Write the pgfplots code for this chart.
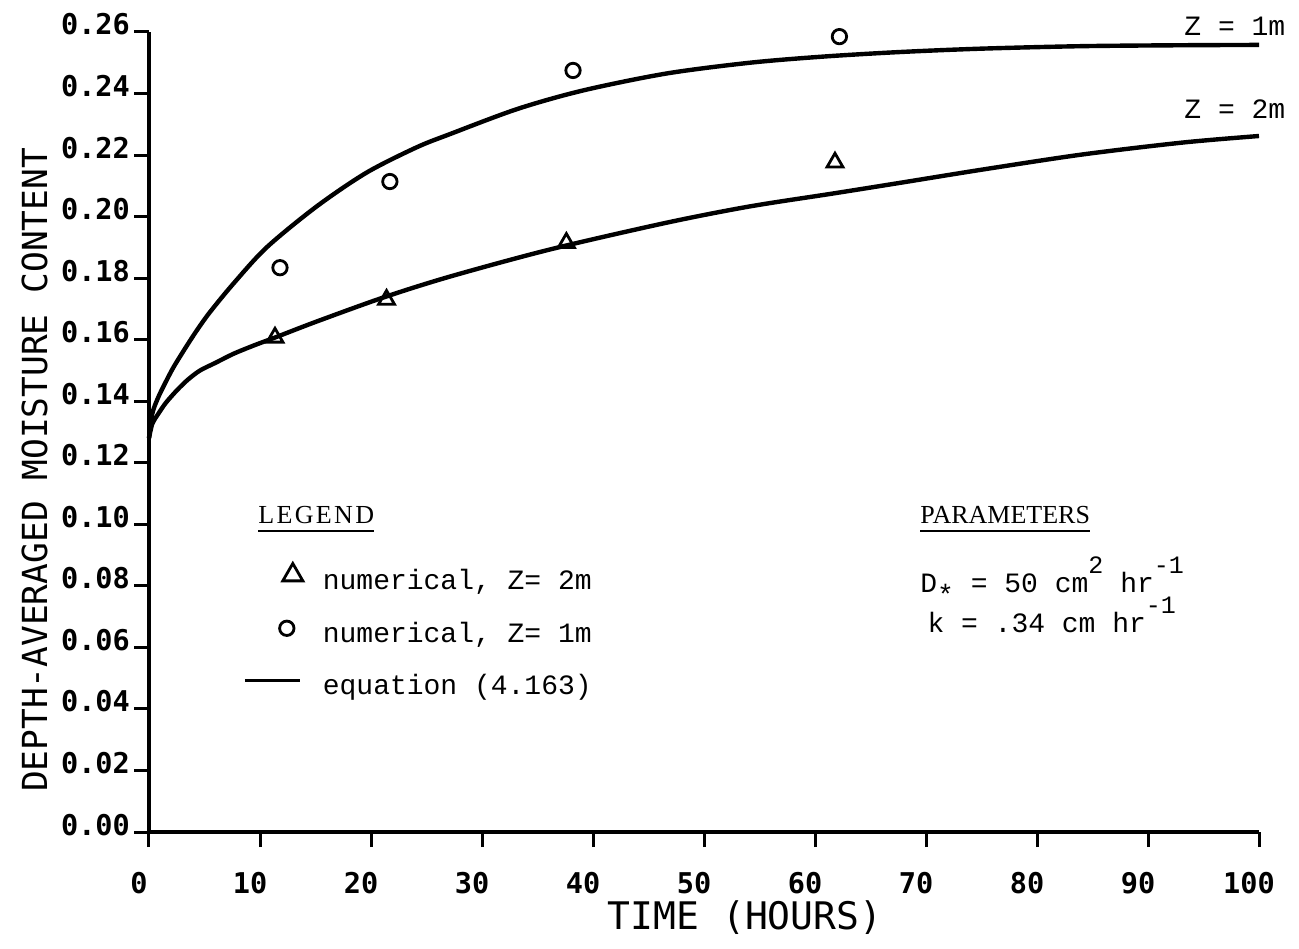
\documentclass[border=0pt]{standalone}
\usepackage{fontspec}
\usepackage{pgfplots}
\pgfplotsset{compat=1.18}
\setmainfont{Liberation Mono}
\newfontfamily\plotmono{DejaVu Sans Mono}
\newfontfamily\headfont{Liberation Serif}

% underlined heading with a rule at a fixed distance below the baseline
\newcommand\headline[2][0]{\vtop{\hbox{\headfont\addfontfeature{LetterSpace=#1}\fontsize{13}{13}\selectfont #2}\kern 3.5pt\hrule height 1pt}}
% typewriter-style raised exponent
\newcommand\sups[1]{\raisebox{9.5pt}{\fontsize{12.5}{12.5}\selectfont #1}}

% legend images
\pgfplotsset{
  tri img/.style={legend image code/.code={\draw[##1, mark size=5.8pt] plot coordinates {(24pt,3.5pt)};}},
  circ img/.style={legend image code/.code={\draw[##1] plot coordinates {(21pt,3.5pt)};}},
  eqn img/.style={legend image code/.code={\draw[##1, line width=1.4pt] (0pt,3.5pt) -- (27.5pt,3.5pt);}},
}

% solution curves of equation (4.163)
\pgfplotstableread{
t     v
0     0.128
0.3   0.136
0.8   0.141
1.4   0.1455
2.2   0.151
3.4   0.1580
4.4   0.1635
5.5   0.1690
7.6   0.1782
10.6  0.1900
15.1  0.2033
19.6  0.2143
24.1  0.2225
27.1  0.2268
33.2  0.2350
39.1  0.2410
46.6  0.2465
54.1  0.2500
60.7  0.2520
67.7  0.2535
75.1  0.2546
84.1  0.2554
93.2  0.2557
100   0.2558
}\curveA
\pgfplotstableread{
t     v
0     0.128
0.3   0.1327
0.8   0.1357
1.5   0.1394
2.5   0.1435
3.5   0.1470
4.6   0.1500
6.0   0.1525
7.6   0.1554
9.5   0.1582
11.35 0.1607
15.1  0.1659
21.1  0.1737
27.1  0.1805
36.1  0.1893
46.6  0.1980
54.1  0.2033
61.6  0.2075
67.7  0.2110
75.1  0.2153
84.1  0.2202
93.2  0.2241
100   0.2262
}\curveB
% numerical results
\pgfplotstableread{
t     v
11.35 0.1607
21.4  0.1730
37.6  0.1915
61.8  0.2176
}\numB
\pgfplotstableread{
t     v
11.8  0.1834
21.7  0.2114
38.2  0.2475
62.2  0.2585
}\numA

\begin{document}
\begin{tikzpicture}
\useasboundingbox (-74.5pt,-58pt) rectangle (575pt,416pt);
\begin{axis}[
  at={(0,0)}, anchor=south west,
  scale only axis, width=555pt, height=400pt,
  xmin=0, xmax=100, ymin=0, ymax=0.26,
  clip=false,
  axis x line*=bottom, axis y line*=left,
  axis line style={line width=2pt, black},
  xtick={0,10,20,30,40,50,60,70,80,90,100},
  xticklabels={0,10,20,30,40,50,60,70,80,90,100},
  ytick={0,0.02,0.04,0.06,0.08,0.10,0.12,0.14,0.16,0.18,0.20,0.22,0.24,0.26},
  yticklabels={0.00,0.02,0.04,0.06,0.08,0.10,0.12,0.14,0.16,0.18,0.20,0.22,0.24,0.26},
  tick align=outside, major tick length=7.5pt,
  tick style={line width=1.5pt, black},
  ticklabel style={font=\plotmono\bfseries\fontsize{14.3}{14.3}\selectfont},
  xticklabel style={xshift=-5pt, yshift=-9pt},
  yticklabel style={anchor=base east, yshift=-1.5pt, xshift=1.5pt},
  xlabel={TIME (HOURS)},
  ylabel={DEPTH-AVERAGED MOISTURE CONTENT},
  xlabel style={font=\plotmono\fontsize{19}{19}\selectfont,
    at={(axis description cs:0.537,-0.1075)}, anchor=center},
  ylabel style={font=\plotmono\fontsize{17.25}{17.25}\selectfont,
    at={(axis description cs:-0.103,0.4525)}, anchor=center},
  legend style={draw=none, fill=none, inner sep=0pt,
    at={(axis cs:8.47,0.0874)}, anchor=north west,
    font=\fontsize{14}{14}\selectfont,
    nodes={inner sep=0pt, text height=10pt, text depth=3pt},
    row sep=13pt, column sep=10pt},
  legend cell align=left,
]
\addplot[only marks, mark=triangle, mark size=4.6pt, line width=1.4pt, tri img]
  table[x=t, y=v] {\numB};
\addlegendentry{numerical, Z= 2m}
\addplot[only marks, mark=o, mark size=3.6pt, line width=1.4pt, circ img]
  table[x=t, y=v] {\numA};
\addlegendentry{numerical, Z= 1m}
\addplot[smooth, line width=2.2pt, black, eqn img]
  table[x=t, y=v] {\curveA};
\addlegendentry{equation (4.163)}
\addplot[smooth, line width=2.2pt, black, forget plot]
  table[x=t, y=v] {\curveB};

% curve labels
\node[anchor=base east, font=\fontsize{14}{14}\selectfont] at (axis cs:103.0,0.2587) {Z = 1m};
\node[anchor=base east, font=\fontsize{14}{14}\selectfont] at (axis cs:103.0,0.2320) {Z = 2m};

% headings
\node[anchor=base west, inner sep=0pt] at (axis cs:9.82,0.1004) {\headline[9]{LEGEND}};
\node[anchor=base west, inner sep=0pt] at (axis cs:69.46,0.1004) {\headline{PARAMETERS}};

% parameter values
\node[anchor=base west, inner sep=0pt, font=\fontsize{14}{14}\selectfont] at (axis cs:69.46,0.0777)
  {D\raisebox{-6pt}{\fontsize{14}{14}\selectfont *} = 50 cm\sups{2} hr\sups{-1}};
\node[anchor=base west, inner sep=0pt, font=\fontsize{14}{14}\selectfont] at (axis cs:70.1,0.0647)
  {k = .34 cm hr\sups{-1}};
\end{axis}
\end{tikzpicture}
\end{document}
